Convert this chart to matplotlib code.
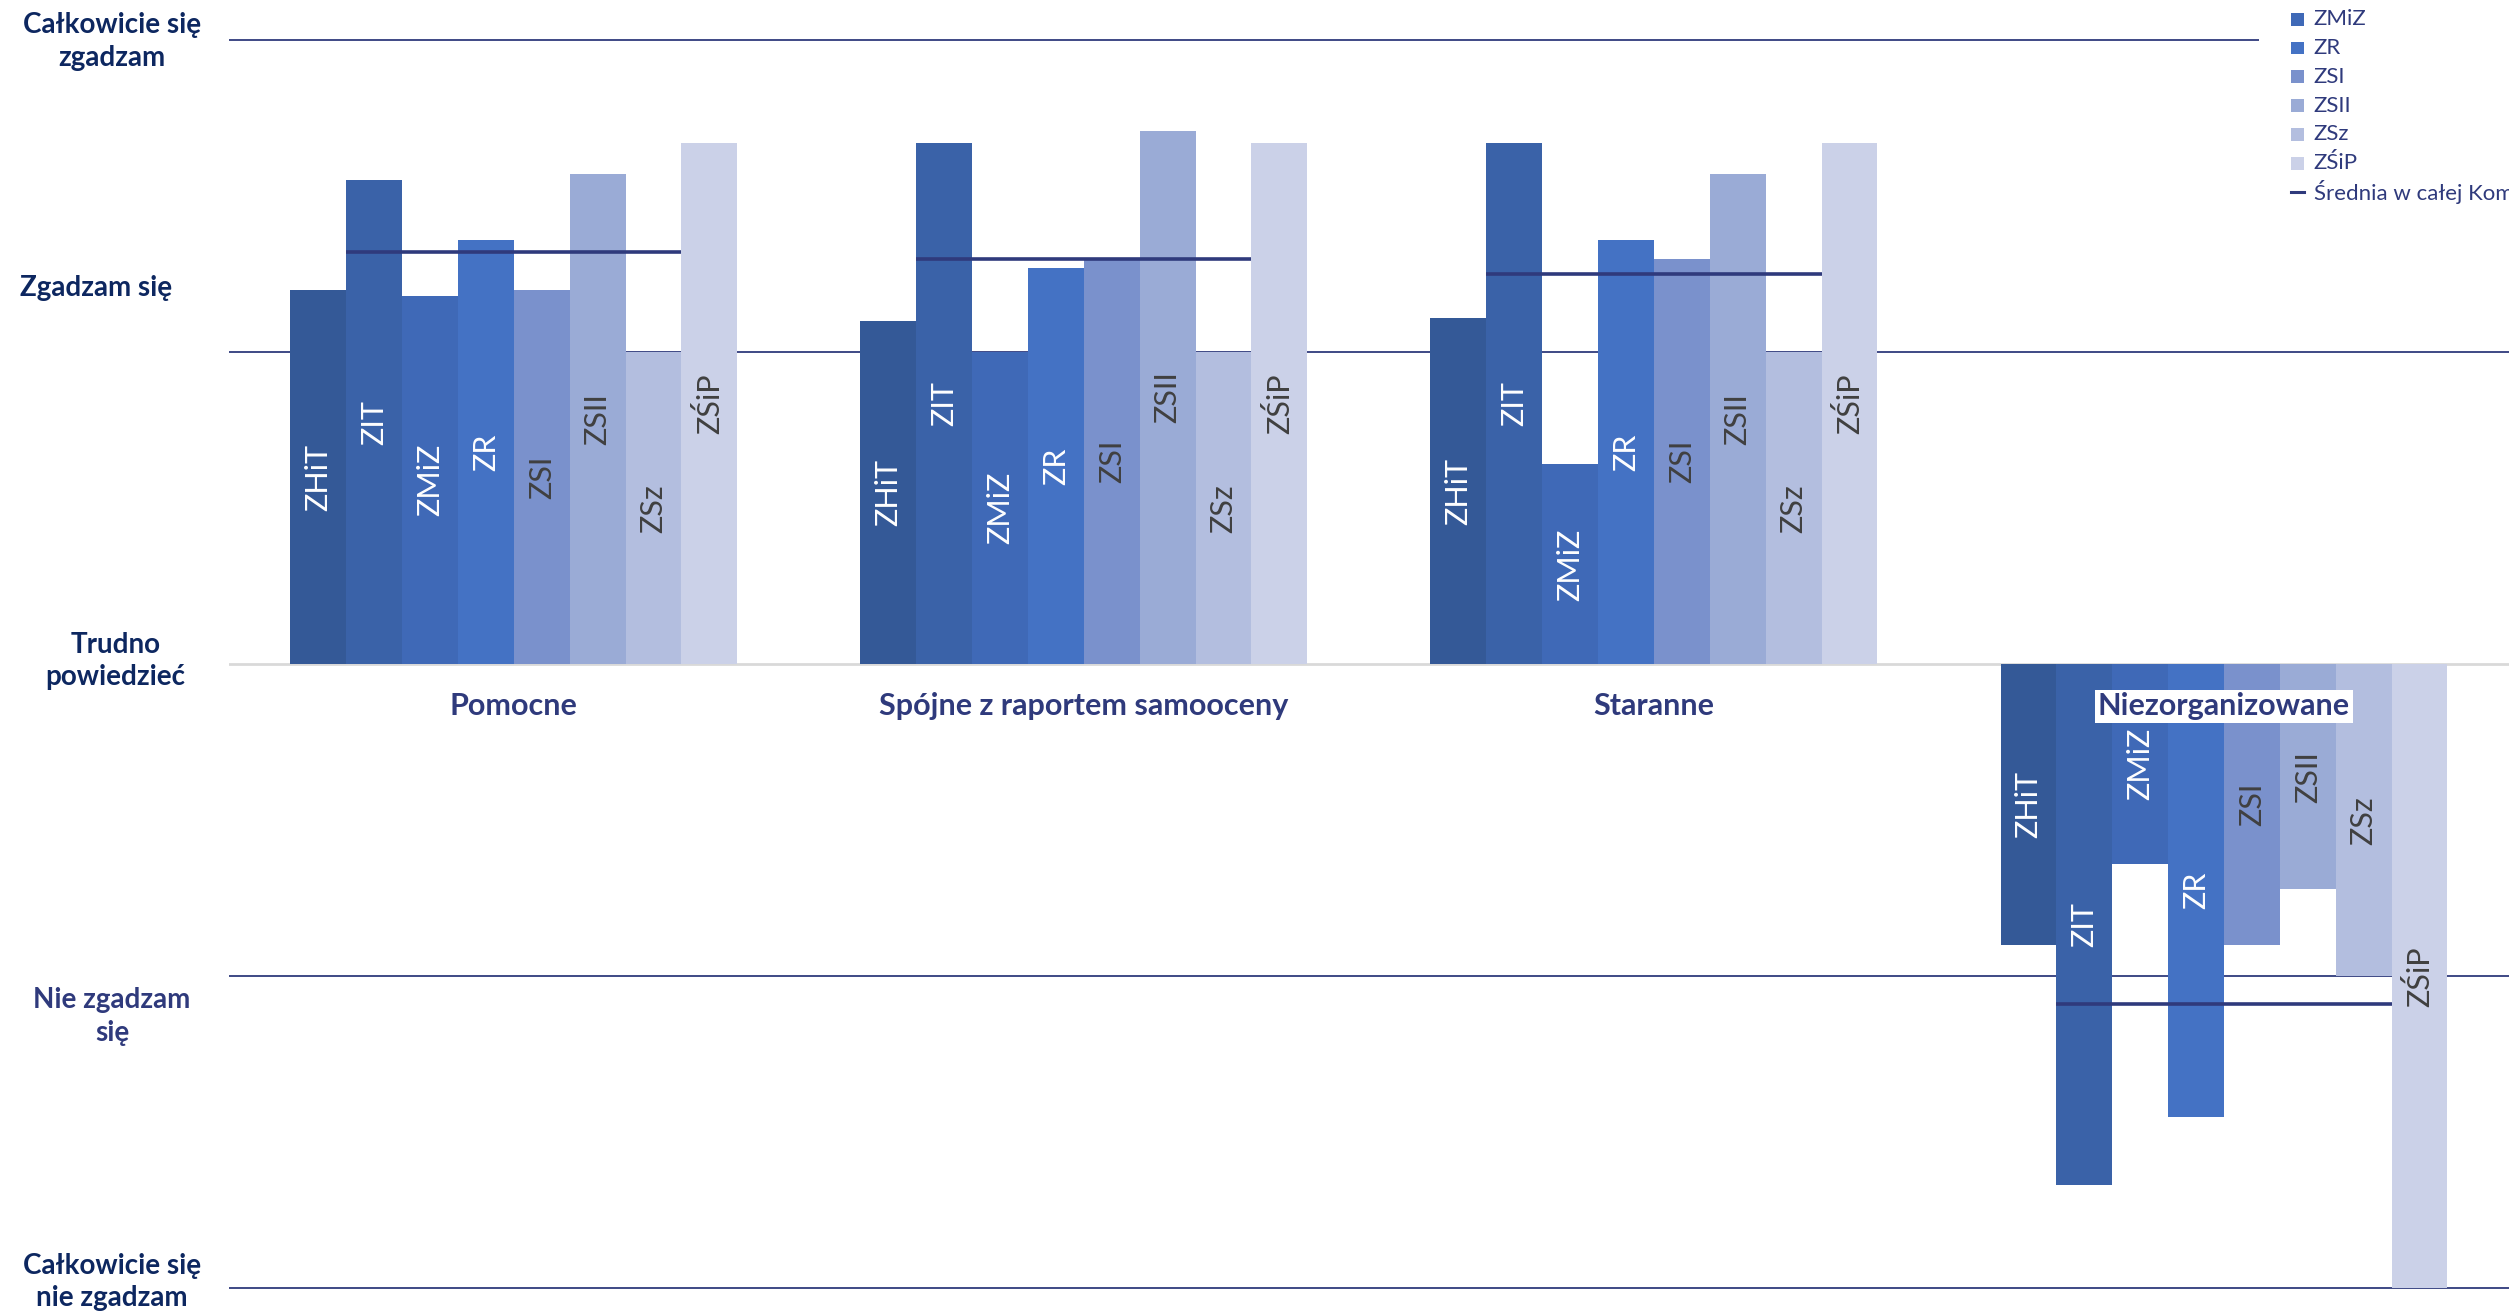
import numpy as np
import matplotlib
matplotlib.use("Agg")
import matplotlib.pyplot as plt
from matplotlib.patches import Rectangle
from matplotlib.lines import Line2D

plt.rcParams['font.family'] = ['Lato', 'DejaVu Sans']

# data (scale: -2 .. 2)
categories = ["Pomocne", "Spójne z raportem samooceny", "Staranne", "Niezorganizowane"]
series = ["ZHiT", "ZIT", "ZMiZ", "ZR", "ZSI", "ZSII", "ZSz", "ZŚiP"]
zhit = [1.20, 1.10, 1.11, -0.90]
zit = [1.55, 1.67, 1.67, -1.67]
zmiz = [1.18, 1.00, 0.64, -0.64]
zr = [1.36, 1.27, 1.36, -1.45]
zsi = [1.20, 1.30, 1.30, -0.90]
zsii = [1.57, 1.71, 1.57, -0.72]
zsz = [1.00, 1.00, 1.00, -1.00]
zsip = [1.67, 1.67, 1.67, -2.00]
srednia = [1.32, 1.30, 1.25, -1.09]
mean_name = "Średnia w całej Komisji"

scale_labels = ["Całkowicie się\nzgadzam", "Zgadzam się", "Trudno\npowiedzieć",
                "Nie zgadzam\nsię", "Całkowicie się\nnie zgadzam"]

colors = ["#345997", "#3A62A8", "#3F69B7", "#4472C4", "#7A91CC", "#9AABD6", "#B3BEDF", "#CBD1E8"]
label_colors = ["white"] * 4 + ["#404040"] * 4
navy = "#2F3A7C"
dark = "#0D2760"

values = [zhit, zit, zmiz, zr, zsi, zsii, zsz, zsip]

W, H = 1568, 821  # layout measured on the shrunk reference
fig = plt.figure(figsize=(25.09, 13.14), dpi=100)
ax = fig.add_axes([143 / W, 0.0076, 1 - 143 / W, 0.9738])

x = np.arange(len(categories))
w = 0.098
for i, (name, vals) in enumerate(zip(series, values)):
    pos = x + (i - 3.5) * w
    ax.bar(pos, vals, width=w, color=colors[i], label=name, zorder=2)
    for p, v in zip(pos, vals):
        ax.text(p, v / 2, name, rotation=90, ha='center', va='center',
                fontsize=22, color=label_colors[i], zorder=4)

ax.hlines(srednia, x - 3 * w, x + 3 * w, color=navy, lw=2.6, zorder=3)

for yv in [-2, -1, 1, 2]:
    ax.axhline(yv, color=navy, lw=1.3, zorder=1)
ax.axhline(0, color="#D9D9D9", lw=2, zorder=1)

ax.set_xlim(-0.5, 3.5)
ax.set_ylim(-2.05, 2.05)
ax.axis('off')

for c, cat in zip(x, categories):
    bbox = None
    if c == 3:
        bbox = dict(facecolor='white', edgecolor='none', pad=2)
    ax.text(c, -0.135, cat, ha='center', va='center', fontsize=22,
            fontweight='bold', color=navy, bbox=bbox, zorder=5)

# scale labels on the left
label_pos = [(70, 26, dark), (60, 180, dark), (72, 413, dark), (70, 635, navy), (70, 801, dark)]
for txt, (px, py, col) in zip(scale_labels, label_pos):
    fig.text(px / W, 1 - py / H, txt, ha='center', va='center', fontsize=20,
             fontweight='bold', color=col, linespacing=1.33)

# legend (top part is cut off by the figure edge, as in the source)
fig.add_artist(Rectangle((1412 / W, 1 - 132 / H), 1, 132 / H, transform=fig.transFigure,
                         facecolor='white', edgecolor='none', zorder=5))
names = series + [mean_name]
for k, name in enumerate(names):
    yc = 1 - (12 + 18 * (k - 2)) / H
    if k < len(series):
        fig.add_artist(Rectangle((1432 / W, yc - 4 / H), 8 / W, 8 / H, transform=fig.transFigure,
                                 facecolor=colors[k], edgecolor='none', zorder=6))
    else:
        fig.add_artist(Line2D([1432 / W, 1440 / W], [yc, yc], transform=fig.transFigure,
                              color=navy, lw=2.2, zorder=6))
    fig.text(1446 / W, yc, name, ha='left', va='center', fontsize=16, color=navy, zorder=7)

fig.savefig("out.png", dpi=100)
